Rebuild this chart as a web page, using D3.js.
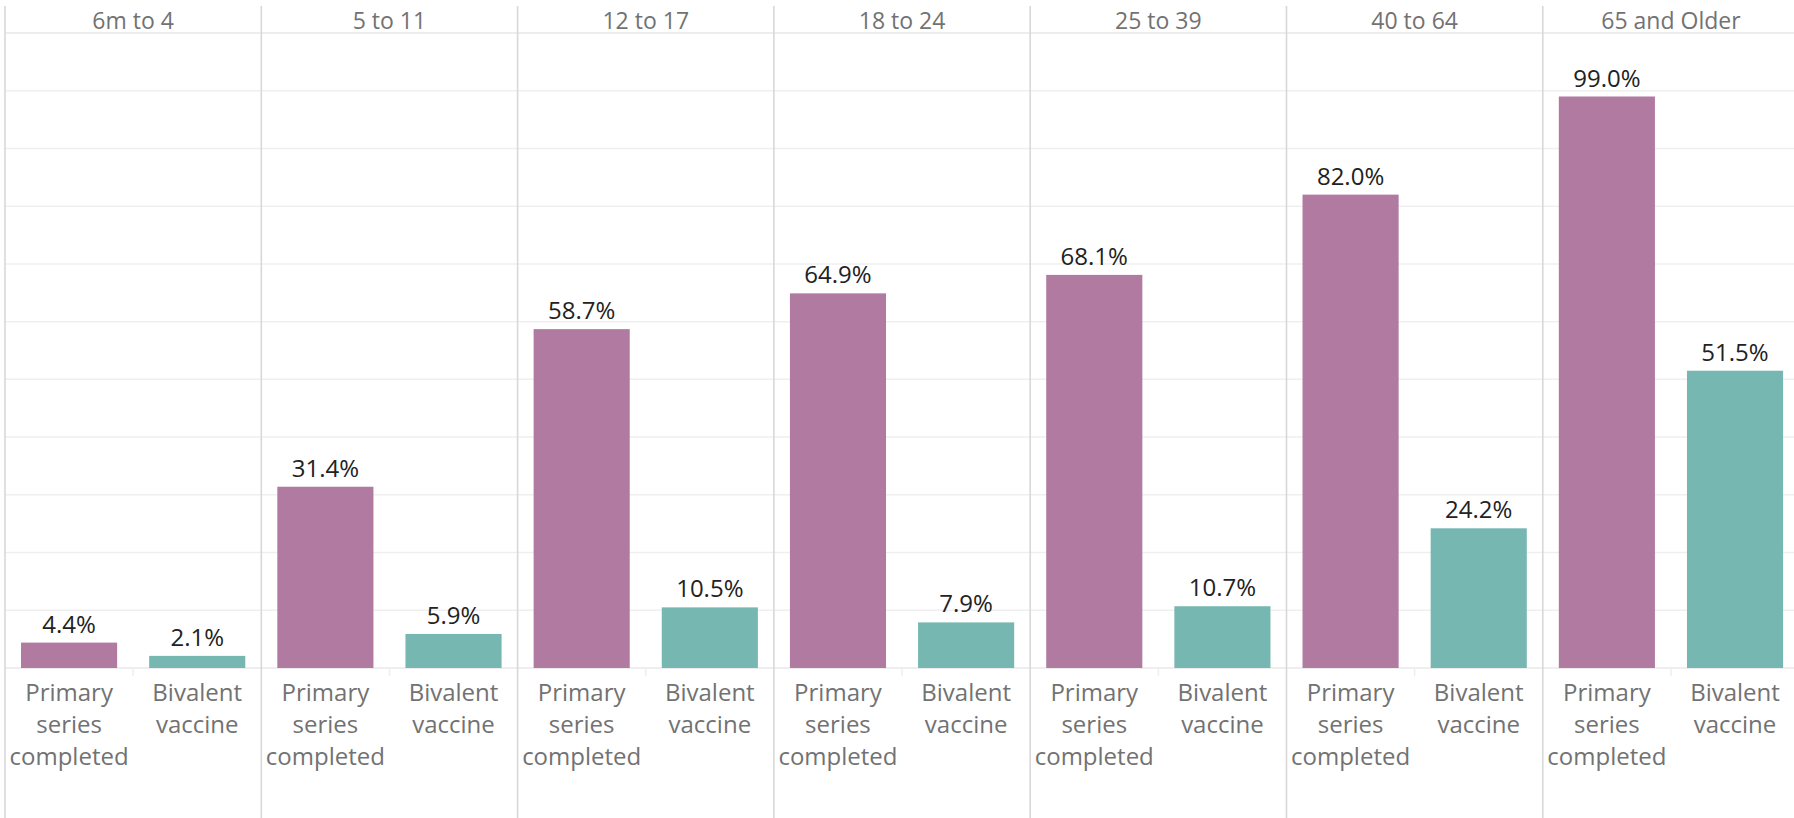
<!DOCTYPE html>
<html><head><meta charset="utf-8">
<script src="https://cdn.jsdelivr.net/npm/d3@7/dist/d3.min.js"></script>
<style>body{margin:0;background:#fff;overflow:hidden}svg{display:block}text{font-family:"Open Sans",sans-serif}</style>
</head><body>
<svg id="c" width="1794" height="818"></svg>
<script>
const ageGroups = ["6m to 4","5 to 11","12 to 17","18 to 24","25 to 39","40 to 64","65 and Older"];
const measures = ["Primary series completed","Bivalent vaccine"];
const measureLines = [["Primary","series","completed"],["Bivalent","vaccine"]];
const primaryValues = [4.4,31.4,58.7,64.9,68.1,82.0,99.0];
const bivalentValues = [2.1,5.9,10.5,7.9,10.7,24.2,51.5];
const gridTicks = [0,10,20,30,40,50,60,70,80,90,100,110];
const colors = ["#b07aa1","#76b7b2"];

const W = 1794, H = 818;
const left = 5, paneW = 256.3;
const headerTop = 6, headerBottom = 33, baseY = 668;
const svg = d3.select("#c");

const xPane = d3.scaleBand().domain(ageGroups).range([left, left + paneW*ageGroups.length]).padding(0);
const xBar = d3.scaleBand().domain(measures).range([0, paneW]).paddingInner(0.25).paddingOuter(0.125);
const y = d3.scaleLinear().domain([0,110]).range([baseY, headerBottom]);

// gridlines
svg.append("g").selectAll("line").data(gridTicks.filter(t=>t>0 && t<110)).join("line")
  .attr("x1", left).attr("x2", W).attr("y1", d=>y(d)).attr("y2", d=>y(d))
  .attr("stroke","#efefef").attr("stroke-width",1.5);

// header bottom line
svg.append("line").attr("x1",left).attr("x2",W).attr("y1",headerBottom).attr("y2",headerBottom)
  .attr("stroke","#dcdcdc").attr("stroke-width",1.2);
// baseline
svg.append("line").attr("x1",left).attr("x2",W).attr("y1",baseY).attr("y2",baseY)
  .attr("stroke","#dedede").attr("stroke-width",1.2);

const data = [];
ageGroups.forEach((g,i)=>{
  data.push({g, m:measures[0], v:primaryValues[i], c:colors[0], li:0});
  data.push({g, m:measures[1], v:bivalentValues[i], c:colors[1], li:1});
});

// faint tick between categories
svg.append("g").selectAll("line").data(ageGroups).join("line")
  .attr("x1", d=>xPane(d)+paneW/2).attr("x2", d=>xPane(d)+paneW/2)
  .attr("y1", baseY).attr("y2", baseY+8).attr("stroke","#eeeeee").attr("stroke-width",1.5);

// bars
svg.append("g").selectAll("rect").data(data).join("rect")
  .attr("x", d=>xPane(d.g)+xBar(d.m)).attr("width", xBar.bandwidth())
  .attr("y", d=>y(d.v)).attr("height", d=>baseY - y(d.v)).attr("fill", d=>d.c);

// value labels
svg.append("g").selectAll("text").data(data).join("text")
  .attr("x", d=>xPane(d.g)+xBar(d.m)+xBar.bandwidth()/2).attr("y", d=>y(d.v)-10)
  .attr("text-anchor","middle").attr("font-size",24).attr("fill","#222")
  .text(d=>d.v.toFixed(1)+"%");

// bottom labels
const lab = svg.append("g").selectAll("text").data(data).join("text")
  .attr("x", d=>xPane(d.g)+xBar(d.m)+xBar.bandwidth()/2).attr("y", 701)
  .attr("text-anchor","middle").attr("font-size",24).attr("fill","#727272");
lab.each(function(d){
  const t = d3.select(this);
  measureLines[d.li].forEach((s,k)=>{
    t.append("tspan").attr("x", xPane(d.g)+xBar(d.m)+xBar.bandwidth()/2).attr("dy", k===0?0:32).text(s);
  });
});

// header labels
svg.append("g").selectAll("text").data(ageGroups).join("text")
  .attr("x", d=>xPane(d)+paneW/2).attr("y", 29)
  .attr("text-anchor","middle").attr("font-size",23).attr("fill","#727272").text(d=>d);

// pane dividers
svg.append("g").selectAll("line").data(ageGroups).join("line")
  .attr("x1", d=>xPane(d)).attr("x2", d=>xPane(d)).attr("y1", headerTop).attr("y2", H)
  .attr("stroke","#d8d8d8").attr("stroke-width",1.6);
</script>
</body></html>
